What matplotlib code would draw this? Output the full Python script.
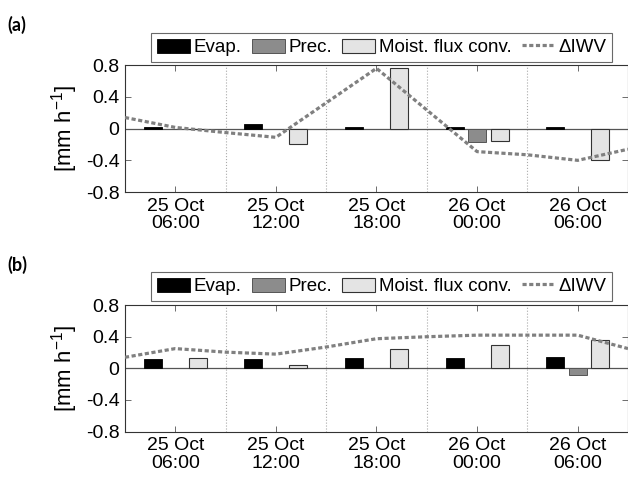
import numpy as np
import matplotlib
matplotlib.use("Agg")
import matplotlib.pyplot as plt
from matplotlib.patches import Patch
from matplotlib.lines import Line2D

plt.rcParams['font.family'] = ['Liberation Sans', 'DejaVu Sans']
plt.rcParams['mathtext.default'] = 'regular'

# hours since 25 Oct 00:00
tick_hours = [6, 12, 18, 24, 30]
tick_labels = ['25 Oct\n06:00', '25 Oct\n12:00', '25 Oct\n18:00',
               '26 Oct\n00:00', '26 Oct\n06:00']
grid_hours = [9, 15, 21, 27]

# panel (a)
evap_a = [0.02, 0.055, 0.02, 0.02, 0.02]
prec_a = [0.0, 0.0, -0.01, -0.17, 0.0]
moist_a = [0.0, -0.19, 0.76, -0.15, -0.40]
iwv_a_hours = [3, 6, 9, 12, 18, 24, 27, 30, 33]
iwv_a = [0.14, 0.015, -0.05, -0.11, 0.76, -0.29, -0.33, -0.40, -0.26]

# panel (b)
evap_b = [0.12, 0.12, 0.135, 0.135, 0.14]
prec_b = [0.0, 0.0, 0.0, 0.0, -0.09]
moist_b = [0.135, 0.04, 0.245, 0.30, 0.36]
iwv_b_hours = [3, 6, 9, 12, 15, 18, 21, 24, 27, 30, 33]
iwv_b = [0.14, 0.25, 0.205, 0.18, 0.27, 0.375, 0.40, 0.42, 0.42, 0.42, 0.25]

c_evap = 'black'
c_prec = '#8c8c8c'
c_moist = '#e4e4e4'
c_iwv = '#808080'

fig = plt.figure(figsize=(6.28, 4.79), dpi=100)

panels = [
    ('(a)', [0.199, 0.599, 0.801, 0.265], evap_a, prec_a, moist_a, iwv_a_hours, iwv_a, 0.948, 0.901),
    ('(b)', [0.199, 0.099, 0.801, 0.264], evap_b, prec_b, moist_b, iwv_b_hours, iwv_b, 0.447, 0.402),
]

x = np.array(tick_hours, dtype=float)
off = 1.34
w = 1.08

for lab, rect, ev, pr, mo, ih, iv, ylab_y, leg_y in panels:
    ax = fig.add_axes(rect)
    for g in grid_hours:
        ax.axvline(g, color='#aaaaaa', lw=0.8, ls=':', zorder=0)
    ax.axhline(0, color='#555555', lw=0.9, zorder=1)
    ax.bar(x - off, ev, width=w, color=c_evap, edgecolor='black', lw=0.6, zorder=2)
    ax.bar(x, pr, width=w, color=c_prec, edgecolor='#555555', lw=0.7, zorder=2)
    ax.bar(x + off, mo, width=w, color=c_moist, edgecolor='#333333', lw=0.8, zorder=2)
    ax.plot(ih, iv, color=c_iwv, lw=2.3, dashes=(1.3, 0.8), zorder=3)

    ax.set_xlim(3, 33)
    ax.set_ylim(-0.8, 0.8)
    ax.set_xticks(tick_hours)
    ax.set_xticklabels(tick_labels, fontsize=14, linespacing=1.05)
    ax.set_yticks([-0.8, -0.4, 0, 0.4, 0.8])
    ax.set_yticklabels(['-0.8', '-0.4', '0', '0.4', '0.8'], fontsize=14)
    ax.tick_params(direction='in', top=True, right=True, length=4,
                   width=0.6, color='#555555', pad=4)
    for s in ax.spines.values():
        s.set_color('#333333')
        s.set_linewidth(0.8)
    ax.set_ylabel('[mm h$^{-1}$]', fontsize=16, labelpad=4)

    fig.text(0.012, ylab_y, lab, fontsize=13, fontweight='bold',
             family=['Lato', 'DejaVu Sans'], va='center')

    handles = [
        Patch(facecolor=c_evap, edgecolor='black', lw=0.6),
        Patch(facecolor=c_prec, edgecolor='#555555', lw=0.7),
        Patch(facecolor=c_moist, edgecolor='#333333', lw=0.8),
        Line2D([], [], color=c_iwv, lw=2.3, dashes=(1.3, 0.8)),
    ]
    leg = fig.legend(handles, ['Evap.', 'Prec.', 'Moist. flux conv.', '\u0394IWV'],
                     loc='center', bbox_to_anchor=(0.608, leg_y), ncol=4,
                     fontsize=13.5, frameon=True, fancybox=False,
                     handlelength=1.75, handleheight=0.8, handletextpad=0.2,
                     columnspacing=0.55, borderpad=0.3, borderaxespad=0)
    leg.get_frame().set_edgecolor('#444444')
    leg.get_frame().set_linewidth(0.8)

fig.savefig('out.png', dpi=100)
